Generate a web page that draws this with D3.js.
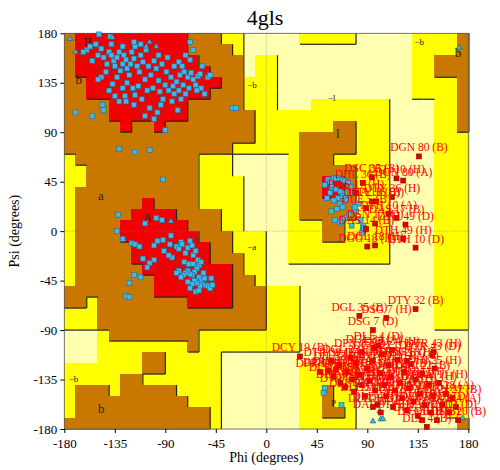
<!DOCTYPE html>
<html>
<head>
<meta charset="utf-8">
<script src="https://cdn.jsdelivr.net/npm/d3@7"></script>
<style>
body { margin: 0; background: #fff; }
text { font-family: "Liberation Serif", "DejaVu Serif", serif; }
</style>
</head>
<body>
<div class="chart"></div>
<script>
// region paint ops on the 10-degree grid: [code, col0, col1, row0, row1] (inclusive)
// col 0 = phi -180..-170, row 0 = psi 180..170
const regionOps = [
    ["Y", 0, 17, 0, 35],
    ["C", 16, 17, 0, 1], ["C", 16, 16, 2, 3],
    ["B", 0, 13, 0, 0], ["B", 0, 14, 1, 1], ["B", 0, 15, 2, 6], ["B", 0, 16, 7, 9], ["B", 0, 14, 10, 10],
    ["B", 1, 11, 11, 11], ["B", 2, 11, 12, 13], ["B", 1, 11, 14, 15], ["B", 1, 13, 16, 17],
    ["B", 1, 14, 18, 19], ["B", 1, 15, 20, 21], ["B", 1, 16, 22, 22], ["B", 0, 17, 23, 24], ["Y", 2, 2, 24, 24],
    ["B", 3, 17, 25, 26], ["B", 18, 18, 25, 25], ["B", 4, 11, 27, 27], ["B", 11, 11, 28, 28],
    ["C", 0, 2, 27, 29], ["B", 7, 8, 29, 30], ["B", 5, 6, 31, 31], ["B", 1, 3, 32, 32], ["B", 5, 9, 32, 32],
    ["B", 1, 10, 33, 33], ["B", 1, 12, 34, 34], ["B", 0, 12, 35, 35], ["C", 14, 17, 29, 35],
    ["C", 15, 17, 11, 12], ["C", 16, 17, 13, 17],
    ["R", 1, 10, 0, 1], ["R", 1, 11, 2, 2], ["R", 1, 12, 3, 3], ["R", 2, 13, 4, 4], ["R", 2, 12, 5, 5],
    ["R", 4, 10, 6, 7], ["R", 5, 5, 8, 8], ["R", 8, 8, 8, 8],
    ["R", 7, 7, 15, 15], ["R", 6, 9, 16, 16], ["R", 5, 10, 17, 17], ["R", 5, 11, 18, 18], ["R", 6, 12, 19, 20],
    ["R", 7, 14, 21, 21], ["R", 8, 14, 22, 23], ["R", 11, 14, 24, 24],
    ["Y", 18, 18, 2, 10], ["Y", 21, 25, 0, 0],
    ["Y", 31, 35, 0, 5], ["Y", 33, 35, 6, 26], ["B", 35, 35, 0, 8], ["B", 33, 34, 2, 3],
    ["Y", 22, 28, 6, 20], ["Y", 19, 21, 7, 20], ["C", 19, 19, 11, 20],
    ["B", 24, 25, 8, 8], ["B", 21, 25, 9, 10], ["B", 21, 23, 11, 11], ["B", 21, 25, 12, 16], ["B", 23, 24, 17, 18],
    ["R", 23, 24, 13, 14],
    ["Y", 18, 20, 23, 28],
    ["Y", 21, 25, 30, 35], ["B", 23, 23, 32, 34], ["B", 24, 24, 34, 34],
    ["Y", 34, 35, 32, 34], ["B", 35, 35, 35, 35]
];

const regionColors = {C: "#ffffb0", Y: "#ffff00", B: "#c87800", R: "#f00000"};
const regionRank = {C: 0, Y: 1, B: 2, R: 3};

const regionLabels = [
    ["B", -163, 168], ["b", -170, 134], ["A", -110, 8], ["a", -150, 28], ["~b", -17, 130],
    ["~a", -17, -17], ["~l", 55, 118], ["l", 62, 85], ["~b", 132, 169], ["b", 168, 158],
    ["~b", -176, -137], ["b", -150, -165], ["p", 58, -157]
];

const ticks = [-180, -135, -90, -45, 0, 45, 90, 135, 180];

// blue squares: non-glycine residues [phi, psi]
const bluePoints = [
    [-149,179],[-139,177],[-160,165],[-163,163],[-157,168],[-152,170],[-150,160],[-155,155],[-147,166],[-145,158],
    [-142,152],[-140,163],[-138,160],[-136,155],[-135,150],[-133,158],[-131,163],[-130,146],[-128,152],[-127,160],
    [-125,156],[-124,148],[-122,142],[-121,152],[-120,163],[-118,157],[-117,168],[-115,150],[-113,145],[-112,160],
    [-110,154],[-108,138],[-107,165],[-105,150],[-103,142],[-101,130],[-100,155],[-98,148],[-96,137],[-95,127],
    [-93,152],[-92,120],[-90,133],[-89,145],[-87,128],[-85,140],[-84,118],[-83,132],[-82,125],[-80,136],
    [-79,110],[-78,128],[-77,142],[-76,120],[-74,133],[-73,145],[-72,125],[-70,140],[-69,130],[-67,144],
    [-65,138],[-63,133],[-61,141],[-59,143],[-58,130],[-68,156],[-72,160],[-78,154],[-55,125],[-143,145],
    [-147,140],[-150,138],[-137,134],[-133,140],[-128,130],[-126,123],[-124,135],[-119,130],[-117,124],[-114,132],
    [-111,120],[-106,128],[-104,112],[-100,102],[-97,108],[-90,92],[-94,115],[-108,105],[-118,115],[-125,118],
    [-146,115],[-155,105],[-170,108],[-145,110],[-140,128],[-135,123],[-131,118],[-65,165],[-68,172],[-112,170],
    [-118,172],[-128,168],[-138,170],[-96,160],[-88,158],[-82,150],[-75,150],[-62,128],[-30,112],[-27,112],
    [-52,140],[-50,142],[-57,150],[-131,75],[-117,72],[-104,74],[-92,47],
    [-132,15],[-133,0],[-128,-7],[-120,-11],[-117,-12],[-113,-14],[-108,7],[-100,-13],[-97,-9],[-91,-18],
    [-93,10],[-98,12],[-85,-4],[-80,-14],[-78,-16],[-76,-10],[-75,-12],[-72,-20],[-70,-15],[-68,-9],
    [-66,-13],[-65,-22],[-63,-18],[-61,-26],[-60,-31],[-58,-28],[-62,-34],[-64,-37],[-66,-40],[-68,-39],
    [-70,-36],[-72,-38],[-74,-40],[-76,-42],[-78,-36],[-80,-38],[-60,-42],[-58,-45],[-57,-48],[-59,-50],
    [-62,-47],[-64,-45],[-66,-48],[-68,-52],[-70,-46],[-56,-38],[-55,-43],[-54,-49],[-52,-50],[-50,-52],
    [-48,-49],[-49,-43],[-84,-24],[-87,-22],[-100,-26],[-104,-29],[-106,-33],[-110,-25],[-112,-42],[-118,-40],
    [-122,-47],[-125,-59],[-122,-60],[-86,-12],[-92,-8],[-73,-28],[-69,-30],[-65,-30],[-63,-55],[-60,-54],
    [52,42],[55,47],[57,45],[60,48],[62,48],[65,48],[68,47],[70,46],[73,45],[58,40],
    [62,38],[66,36],[70,35],[72,30],[75,40],[77,35],[64,30],[60,28],[66,25],[68,22],
    [63,20],[58,18],[61,10],[66,8],[70,12],[74,15],[78,20],[80,18],[82,25],[84,10],
    [86,5],[86,0],[85,-2],[87,3],[76,5],[72,28],[68,32],[57,35],[54,30],[79,22],
    [52,-143],[51,-147],[67,-158]
];

// blue triangles: glycines
const glyPoints = [
    [-175,175],[-170,163],[-137,176],[-104,172],[-107,168],[-98,168],[-85,9],[172,167],
    [175,-170],[101,-164],[95,-173],[102,-171],[104,-171],[125,-164]
];

// red squares: residues in unusual regions [phi, psi, label]
const redPoints = [
    [136,68,"DGN 80 (B)"],[122,46,"DGN 80 (A)"],[116,48,"DTH 10 (H)"],[94,49,"DSC 35 (B)"],[86,44,"DHL 36 (B)"],
    [112,31,"DTY 36 (H)"],[80,35,"DAS 17 (H)"],[94,27,"DGA 18 (B)"],[98,27,"DTY 36 (B)"],[109,16,"DTH 10 (A)"],
    [116,12,"DAS 17 (B)"],[124,6,"DTH 49 (D)"],[89,21,"DLE 5 (B)"],[97,7,"DSN 17 (D)"],[89,2,"DAS 14 (B)"],
    [122,-7,"DTH 49 (H)"],[133,-15,"DTH 10 (D)"],[90,-14,"DGG 18 (H)"],[97,-13,"DGL 18 (H)"],
    [133,-71,"DTY 32 (B)"],[83,-77,"DGL 35 (B)"],[107,-79,"DSG 7 (H)"],[95,-90,"DSG 7 (D)"],[30,-114,"DCY 19 (B)"],
    [149,-110,"DTR 43 (H)"],[148,-113,"DTR 43 (D)"],[100,-104,"DLE 4 (D)"],[96,-106,"DGL 34 (A)"],
    [48,-128,"DPR 9 (B)"],[55,-127,"DPR 9 (A)"],[60,-132,"DLE 5 (D)"],[62,-126,"DIL 8 (H)"],[66,-138,"DLE 3 (B)"],
    [70,-142,"DVA 6 (A)"],[72,-128,"DAL 2 (H)"],[76,-135,"DLY 12 (B)"],[78,-146,"DLE 5 (A)"],[80,-120,"DGL 22 (D)"],
    [83,-131,"DVA 6 (D)"],[85,-140,"DPN 15 (H)"],[88,-150,"DLE 5 (H)"],[90,-125,"DTR 41 (B)"],[92,-136,"DSN 20 (A)"],
    [95,-118,"DAR 11 (B)"],[97,-145,"DIL 8 (D)"],[99,-158,"DLE 4 (H)"],[101,-129,"DVA 30 (H)"],[103,-112,"DGN 27 (D)"],
    [105,-140,"DTH 24 (B)"],[107,-150,"DAL 2 (A)"],[109,-122,"DLY 12 (H)"],[111,-133,"DVA 6 (B)"],[113,-160,"DLE 3 (A)"],
    [115,-145,"DPR 9 (H)"],[117,-117,"DTR 39 (A)"],[119,-138,"DAR 11 (D)"],[121,-152,"DIL 8 (A)"],[123,-128,"DHI 25 (B)"],
    [125,-163,"DAL 31 (D)"],[127,-143,"DSN 20 (D)"],[129,-121,"DLY 12 (A)"],[131,-155,"DVA 30 (B)"],[133,-135,"DTH 24 (H)"],
    [135,-168,"DLE 3 (H)"],[137,-148,"DPN 15 (A)"],[139,-130,"DGL 22 (B)"],[141,-158,"DPR 9 (D)"],[143,-178,"DLE 4 (B)"],
    [145,-140,"DTR 41 (H)"],[147,-165,"DAL 2 (D)"],[149,-150,"DVA 30 (A)"],[152,-172,"DIL 8 (B)"],[154,-138,"DAR 11 (H)"],
    [157,-158,"DHI 25 (D)"],[160,-148,"DTY 28 (A)"],[163,-165,"DLY 12 (D)"],[166,-152,"DGN 27 (B)"],[169,-160,"DLE 4 (A)"],
    [171,-172,"DSN 20 (B)"],[125,-118,"DTY 28 (H)"],[112,-108,"DGL 34 (H)"],[85,-110,"DPN 15 (B)"],[75,-115,"DGL 22 (A)"],
    [139,-172,"DVA 6 (H)"],[150,-125,"DHI 25 (H)"],[95,-160,"DLE 3 (D)"],[102,-165,"DAL 31 (B)"],[58,-118,"DTR 39 (B)"],
    [65,-122,"DIL 33 (D)"]
];

const width = 500, height = 470;
const x = d3.scaleLinear().domain([-180, 180]).range([64.3, 468.3]);
const y = d3.scaleLinear().domain([180, -180]).range([33.3, 429]);

// build the grid
const grid = [];
for (let r = 0; r < 36; r++) grid.push(new Array(36).fill("C"));
regionOps.forEach(([c, c0, c1, r0, r1]) => {
    for (let r = r0; r <= r1; r++)
        for (let k = c0; k <= c1; k++) grid[r][k] = c;
});
const cells = [];
for (let r = 0; r < 36; r++)
    for (let k = 0; k < 36; k++)
        cells.push({phi: -180 + k * 10, psi: 180 - r * 10, code: grid[r][k], r: r, k: k});

const svg = d3.select(".chart").append("svg")
    .attr("width", width)
    .attr("height", height);

const cw = x(-170) - x(-180), ch = y(170) - y(180);
svg.append("g").attr("shape-rendering", "crispEdges").selectAll("rect")
    .data(cells)
    .join("rect")
    .attr("x", d => Math.floor(x(d.phi)))
    .attr("y", d => Math.floor(y(d.psi)))
    .attr("width", d => Math.ceil(x(d.phi + 10)) - Math.floor(x(d.phi)) + 1)
    .attr("height", d => Math.ceil(y(d.psi - 10)) - Math.floor(y(d.psi)) + 1)
    .attr("fill", d => regionColors[d.code]);

// shadow edges on right / bottom side of higher regions
const edges = [];
cells.forEach(d => {
    const rk = regionRank[d.code];
    if (d.k < 35 && regionRank[grid[d.r][d.k + 1]] < rk)
        edges.push([d.phi + 10, d.psi, d.phi + 10, d.psi - 10]);
    if (d.r < 35 && regionRank[grid[d.r + 1][d.k]] < rk)
        edges.push([d.phi, d.psi - 10, d.phi + 10, d.psi - 10]);
});
svg.append("g").selectAll("line")
    .data(edges)
    .join("line")
    .attr("x1", d => x(d[0])).attr("y1", d => y(d[1]))
    .attr("x2", d => x(d[2])).attr("y2", d => y(d[3]))
    .attr("stroke", "#222")
    .attr("stroke-width", 1.2);

// zero lines
svg.append("line").attr("x1", x(0)).attr("x2", x(0)).attr("y1", y(180)).attr("y2", y(-180))
    .attr("stroke", "#777").attr("stroke-width", 0.6).attr("stroke-dasharray", "1,1.5");
svg.append("line").attr("x1", x(-180)).attr("x2", x(180)).attr("y1", y(0)).attr("y2", y(0))
    .attr("stroke", "#777").attr("stroke-width", 0.6).attr("stroke-dasharray", "1,1.5");

svg.append("g").selectAll("text")
    .data(regionLabels)
    .join("text")
    .attr("x", d => x(d[1]))
    .attr("y", d => y(d[2]))
    .attr("font-size", d => d[0].length > 1 || d[0] === "p" ? 9 : 13)
    .attr("fill", "#222")
    .text(d => d[0].replace("~", "\u2212"));

// frame
svg.append("rect")
    .attr("x", x(-180)).attr("y", y(180))
    .attr("width", x(180) - x(-180)).attr("height", y(-180) - y(180))
    .attr("fill", "none").attr("stroke", "#555").attr("stroke-width", 0.8);

// axes
const xAxis = d3.axisBottom(x).tickValues(ticks).tickSize(4).tickFormat(d => d);
const yAxis = d3.axisLeft(y).tickValues(ticks).tickSize(4).tickFormat(d => d);
svg.append("g").attr("transform", `translate(0,${y(-180)})`).call(xAxis)
    .call(g => g.select(".domain").remove())
    .call(g => g.selectAll("text").attr("font-size", 13).attr("fill", "#000").attr("dy", "0.9em")
        .style("font-family", "Liberation Serif"));
svg.append("g").attr("transform", `translate(${x(-180)},0)`).call(yAxis)
    .call(g => g.select(".domain").remove())
    .call(g => g.selectAll("text").attr("font-size", 13).attr("fill", "#000")
        .style("font-family", "Liberation Serif"));

svg.append("text").attr("x", 265).attr("y", 25).attr("text-anchor", "middle")
    .attr("font-size", 22).text("4gls");
svg.append("text").attr("x", x(0)).attr("y", 462).attr("text-anchor", "middle")
    .attr("font-size", 14).text("Phi (degrees)");
svg.append("text").attr("transform", `translate(19,${y(0)}) rotate(-90)`).attr("text-anchor", "middle")
    .attr("font-size", 14).text("Psi (degrees)");

// points
svg.append("g").selectAll("rect")
    .data(bluePoints)
    .join("rect")
    .attr("x", d => x(d[0]) - 2.5).attr("y", d => y(d[1]) - 2.5)
    .attr("width", 5).attr("height", 5)
    .attr("fill", "#40b8e8").attr("stroke", "#1d6f9a").attr("stroke-width", 0.6);

svg.append("g").selectAll("path")
    .data(glyPoints)
    .join("path")
    .attr("d", d3.symbol(d3.symbolTriangle, 14))
    .attr("transform", d => `translate(${x(d[0])},${y(d[1])})`)
    .attr("fill", "#40b8e8").attr("stroke", "#1d4f7a").attr("stroke-width", 0.6);

svg.append("g").selectAll("rect")
    .data(redPoints)
    .join("rect")
    .attr("x", d => x(d[0]) - 2.5).attr("y", d => y(d[1]) - 2.5)
    .attr("width", 5).attr("height", 5)
    .attr("fill", "#e00000").attr("stroke", "#900").attr("stroke-width", 0.6);

svg.append("g").selectAll("text")
    .data(redPoints)
    .join("text")
    .attr("x", d => x(d[0]))
    .attr("y", d => y(d[1]) - 5)
    .attr("text-anchor", "middle")
    .attr("font-size", 11.5)
    .attr("fill", "#ff0000")
    .text(d => d[2]);
</script>
</body>
</html>
